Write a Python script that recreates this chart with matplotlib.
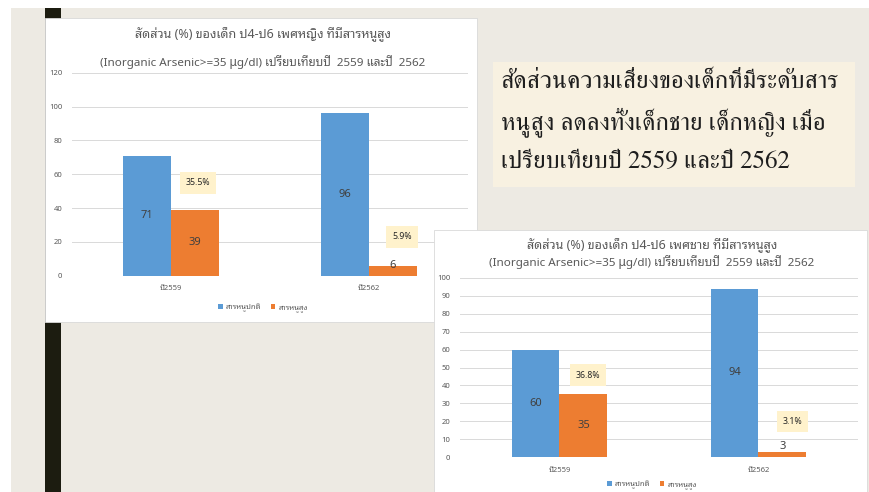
import matplotlib
matplotlib.use("Agg")
import matplotlib.pyplot as plt
from matplotlib.patches import Rectangle

# data
years = ["ปี2559", "ปี2562"]
series_names = ["สารหนูปกติ", "สารหนูสูง"]
girls_normal = [71, 96]
girls_high = [39, 6]
girls_pct = ["35.5%", "5.9%"]
boys_normal = [60, 94]
boys_high = [35, 3]
boys_pct = ["36.8%", "3.1%"]

girls_title = ["สัดส่วน (%) ของเด็ก ป4-ป6 เพศหญิง ที่มีสารหนูสูง",
               "(Inorganic Arsenic>=35 µg/dl) เปรียบเทียบปี  2559 และปี  2562"]
boys_title = ["สัดส่วน (%) ของเด็ก ป4-ป6 เพศชาย ที่มีสารหนูสูง",
              "(Inorganic Arsenic>=35 µg/dl) เปรียบเทียบปี  2559 และปี  2562"]
slide_text = ["สัดส่วนความเสี่ยงของเด็กที่มีระดับสาร",
              "หนูสูง ลดลงทั้งเด็กชาย เด็กหญิง เมื่อ",
              "เปรียบเทียบปี 2559 และปี 2562"]

BLUE = "#5B9BD5"
ORANGE = "#ED7D31"
GREY = "#595959"
SANS = ["Noto Sans Thai Looped", "DejaVu Sans"]
plt.rcParams["font.family"] = SANS

W, H = 870, 492
fig = plt.figure(figsize=(W / 100, H / 100), dpi=100, facecolor="white")


def box(x0, y0, x1, y1, **kw):
    # rectangle in pixel coords (top-left origin)
    fig.patches.append(Rectangle((x0 / W, 1 - y1 / H), (x1 - x0) / W, (y1 - y0) / H,
                                 transform=fig.transFigure, **kw))


def ftext(x, y, s, **kw):
    fig.text(x / W, 1 - y / H, s, **kw)


# slide background, dark stripe, text box
box(11, 8, 870, 492, facecolor="#EDEAE3", edgecolor="none", zorder=0)
box(45, 8, 61, 492, facecolor="#1C1C10", edgecolor="none", zorder=1)
box(493, 62, 855, 187, facecolor="#F8F1E1", edgecolor="none", zorder=1)
for i, line in enumerate(slide_text):
    ftext(501, 82 + 40 * i, line, family=["FreeSerif", "DejaVu Serif"], fontsize=18,
          color="#1E1E1E", va="center", ha="left", zorder=2)


def chart(panel, plot, ymax, ystep, normal, high, pct, pct_pos, title, title_y, legend_xy, z):
    px0, py0, px1, py1 = panel
    box(px0, py0, px1, py1, facecolor="white", edgecolor="#D9D9D9", linewidth=0.6, zorder=z)
    ax0, ay0, ax1, ay1 = plot
    ax = fig.add_axes([ax0 / W, 1 - ay1 / H, (ax1 - ax0) / W, (ay1 - ay0) / H], zorder=z + 1)
    ax.patch.set_alpha(0)
    x = range(len(years))
    w = 0.24
    b1 = ax.bar([i - w / 2 for i in x], normal, w, color=BLUE, label=series_names[0], zorder=2)
    b2 = ax.bar([i + w / 2 for i in x], high, w, color=ORANGE, label=series_names[1], zorder=2)
    for bars, vals in ((b1, normal), (b2, high)):
        for r, v in zip(bars, vals):
            # small bars get their label just above the bar top
            ax.text(r.get_x() + r.get_width() / 2, max(v / 2, 6), str(v),
                    ha="center", va="center", fontsize=8, color="#404040", zorder=3)
    for (cx, cy), s in zip(pct_pos, pct):
        ax.text(cx, cy, s, ha="center", va="center", fontsize=6.3, fontweight="bold",
                color="#262626", zorder=4,
                bbox=dict(boxstyle="square,pad=0.7", facecolor="#FFF2CC", edgecolor="none"))
    ax.set_xlim(-0.5, len(years) - 0.5)
    ax.set_ylim(0, ymax)
    ax.set_yticks(range(0, ymax + 1, ystep))
    ax.set_xticks(list(x))
    ax.set_xticklabels(years)
    ax.tick_params(length=0, labelsize=5.5, labelcolor=GREY)
    ax.tick_params(axis="y", pad=7)
    ax.tick_params(axis="x", pad=7)
    for sp in ax.spines.values():
        sp.set_visible(False)
    ax.grid(axis="y", color="#D9D9D9", linewidth=0.7, zorder=0)
    ax.set_axisbelow(True)
    cx = title_y[2]
    for s, ty, fs in zip(title, title_y[:2], (9, 8.4)):
        ftext(cx, ty, s, ha="center", va="center", fontsize=fs, color=GREY, zorder=z + 2)
    leg = ax.legend(loc="center", bbox_to_anchor=(legend_xy[0] / W, 1 - legend_xy[1] / H),
                    bbox_transform=fig.transFigure, ncol=2, frameon=False, fontsize=5.5,
                    handlelength=0.6, handleheight=0.6, handletextpad=0.4, columnspacing=1.2)
    for t in leg.get_texts():
        t.set_color(GREY)
    return ax


chart((45, 18, 477, 322), (72, 72.7, 468, 275.7), 120, 20,
      girls_normal, girls_high, girls_pct, [(0.136, 54.8), (1.167, 22.9)],
      girls_title, (35, 62, 263), (263, 308), 2)
chart((434, 230, 867, 492), (460, 278, 858, 457), 100, 10,
      boys_normal, boys_high, boys_pct, [(0.143, 45.8), (1.171, 19.8)],
      boys_title, (246, 262, 652), (652, 485), 6)

fig.savefig("out.png", dpi=100, facecolor=fig.get_facecolor())
